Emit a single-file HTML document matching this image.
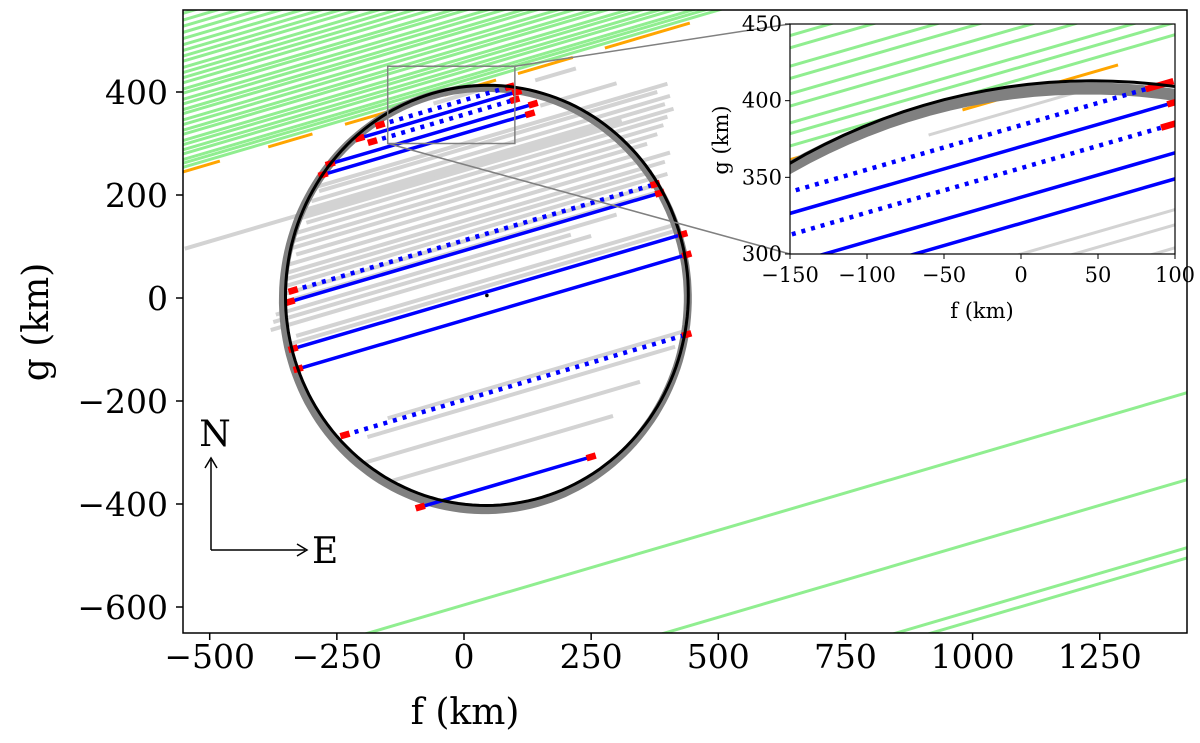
<!DOCTYPE html>
<html><head><meta charset="utf-8"><style>
html,body{margin:0;padding:0;background:#fff;overflow:hidden;width:1200px;height:743px}
svg{display:block}
text{font-family:"DejaVu Serif","Liberation Serif",serif;fill:#000}
</style></head><body>
<svg id="chart" width="1200" height="743" viewBox="0 0 1200 743" xmlns="http://www.w3.org/2000/svg">
<defs>
<clipPath id="mainClip"><rect x="183" y="10" width="1004" height="623"/></clipPath>
<clipPath id="insetClip"><rect x="790" y="24" width="385" height="230"/></clipPath>
</defs>
<g id="mainPlot" clip-path="url(#mainClip)"></g>
<rect x="183" y="10" width="1004" height="623" fill="none" stroke="#000" stroke-width="1.5"/>
<g id="mainAxes"></g>
<text x="465" y="724" font-size="36" text-anchor="middle">f (km)</text>
<text transform="translate(48,322) rotate(-90)" font-size="36" text-anchor="middle">g (km)</text>
<g>
<line x1="211" y1="550" x2="211" y2="460" stroke="#000" stroke-width="1.5"/>
<path d="M205,468 L211,458 L217,468" fill="none" stroke="#000" stroke-width="1.5"/>
<line x1="211" y1="550" x2="305" y2="550" stroke="#000" stroke-width="1.5"/>
<path d="M297,544 L307,550 L297,556" fill="none" stroke="#000" stroke-width="1.5"/>
<text x="215" y="446" font-size="36" text-anchor="middle">N</text>
<text x="312" y="563" font-size="36">E</text>
</g>
<g id="connectors"></g>
<rect x="790" y="24" width="385" height="230" fill="#fff"/>
<g id="insetPlot" clip-path="url(#insetClip)"></g>
<rect x="790" y="24" width="385" height="230" fill="none" stroke="#000" stroke-width="1.2"/>
<g id="insetAxes"></g>
<text x="982" y="318" font-size="21" text-anchor="middle">f (km)</text>
<text transform="translate(728,140) rotate(-90)" font-size="21" text-anchor="middle">g (km)</text>
</svg>
<script>
// ---- data ----
const slope = 0.29;
const greenIntercepts = [414,422,429,440,448,458,466,478,486,497,506,518,526,537,546,558,566,578,588,598,608,620,630,641,652,664,676,688,700,713,726];
const greenFarIntercepts = [-596,-765,-897,-917];
const orangeIntercept = 405;
const orangeSegStart = [-570,-385,-234,-38,106,277];
const orangeSegEnd = [-480,-298,-112,63,214,444];
const grayIntercept = [255,395,382,330,300,290,275,262,248,236,222,208,195,180,165,150,138,125,75,62,48,22,-263,-314,-190,-215,110,95,10];
const grayStart = [-549,-60,140,150,-300,-285,-300,-320,-320,-310,-335,-340,-340,-330,-350,-355,-360,-355,-370,-375,-380,-330,-204,-140,-150,-190,-350,-360,-340];
const grayEnd = [310,40,220,300,400,380,405,395,412,400,392,380,360,340,405,395,370,400,300,210,250,420,346,293,430,415,380,390,420];
const blueIntercept = [384,370,356,337,320,112,92,-1,-43,-198,-381];
const blueStart = [-165,-205,-180,-263,-277,-336,-342,-336,-326,-234,-86];
const blueEnd = [90,104,100,136,130,376,385,430,438,438,250];
const blueDotted = [1,0,1,0,0,1,0,0,0,1,0];
const ellipseCenterF = 45, ellipseCenterG = 5, ellipseA = 396, ellipseB = 408, ellipseTiltDeg = -4;
const bandCenterF = 42, bandCenterG = -2, bandA = 398, bandB = 410, bandTiltDeg = -3;
const mainXTicks = [-500,-250,0,250,500,750,1000,1250];
const mainYTicks = [-600,-400,-200,0,200,400];
const insetXTicks = [-150,-100,-50,0,50,100];
const insetYTicks = [300,350,400,450];

// ---- scales ----
const NS = "http://www.w3.org/2000/svg";
const mainScale = {X: f => 464 + 0.5086*f, Y: g => 298 - 0.515*g};
const insetScale = {X: f => 790 + (f+150)*1.54, Y: g => 254 - (g-300)*1.5333};
function el(tag, attrs, parent){
  const e = document.createElementNS(NS, tag);
  for (const k in attrs) e.setAttribute(k, attrs[k]);
  parent.appendChild(e); return e;
}
function lineAt(sc, g0, f1, f2, parent, style){
  const l = el('line', {x1: sc.X(f1), y1: sc.Y(g0+slope*f1), x2: sc.X(f2), y2: sc.Y(g0+slope*f2)}, parent);
  for (const k in style) l.setAttribute(k, style[k]);
  return l;
}
function ellipsePath(sc, cf, cg, a, b, tiltDeg){
  const t = tiltDeg*Math.PI/180; let d = '';
  for (let i=0;i<=180;i++){
    const u = i/180*2*Math.PI;
    const f = cf + a*Math.cos(t)*Math.cos(u) - b*Math.sin(t)*Math.sin(u);
    const g = cg + a*Math.sin(t)*Math.cos(u) + b*Math.cos(t)*Math.sin(u);
    d += (i?'L':'M') + sc.X(f).toFixed(1) + ',' + sc.Y(g).toFixed(1);
  }
  return d + 'Z';
}
function drawAll(sc, parent, inset){
  for (let i=0;i<greenIntercepts.length;i++){
    const l = lineAt(sc, greenIntercepts[i], -700, 1500, parent, {stroke:'#90ee90','stroke-width':inset?3:3});
    
    
  }
  for (let i=0;i<greenFarIntercepts.length;i++){
    const l = lineAt(sc, greenFarIntercepts[i], -700, 1500, parent, {stroke:'#90ee90','stroke-width':3});
    
    
  }
  for (let i=0;i<orangeSegStart.length;i++){
    const l = lineAt(sc, orangeIntercept, orangeSegStart[i], orangeSegEnd[i], parent, {stroke:'#ffa500','stroke-width':3});
    
    
  }
  for (let i=0;i<grayIntercept.length;i++){
    const l = lineAt(sc, grayIntercept[i], grayStart[i], grayEnd[i], parent, {stroke:'#d3d3d3','stroke-width':inset?3:4});
    
    
  }
  const band = el('path', {d: ellipsePath(sc, bandCenterF, bandCenterG, bandA, bandB, bandTiltDeg), fill:'none', stroke:'#808080', 'stroke-width': inset?12:8}, parent);
  
  
  for (let i=0;i<blueIntercept.length;i++){
    const st = {stroke:'#0000ff','stroke-width':3.5};
    if (blueDotted[i]) { st['stroke-dasharray'] = '4,6'; st['stroke-width'] = 4.5; }
    const l = lineAt(sc, blueIntercept[i], blueStart[i], blueEnd[i], parent, st);
    
    
    const ends = [[blueStart[i]-9, blueStart[i]+9],[blueEnd[i]-9, blueEnd[i]+9]];
    for (const e2 of ends){
      const r = lineAt(sc, blueIntercept[i], e2[0], e2[1], parent, {stroke:'#ff0000','stroke-width':6.5});
      
      
    }
  }
  const fit = el('path', {d: ellipsePath(sc, ellipseCenterF, ellipseCenterG, ellipseA, ellipseB, ellipseTiltDeg), fill:'none', stroke:'#000', 'stroke-width': 3}, parent);
  
  
}
drawAll(mainScale, document.getElementById('mainPlot'), false);
drawAll(insetScale, document.getElementById('insetPlot'), true);
const cdot = el('circle', {cx: mainScale.X(ellipseCenterF), cy: mainScale.Y(ellipseCenterG), r: 1.8, fill:'#000'}, document.getElementById('mainPlot'));


const conn = document.getElementById('connectors');
const zb = el('rect', {x: mainScale.X(-150), y: mainScale.Y(450), width: mainScale.X(100)-mainScale.X(-150), height: mainScale.Y(300)-mainScale.Y(450), fill:'none', stroke:'#808080','stroke-width':1.5}, conn);


el('line', {x1: mainScale.X(100), y1: mainScale.Y(450), x2: 790, y2: 24, stroke:'#808080','stroke-width':1.5}, conn);
el('line', {x1: mainScale.X(-150), y1: mainScale.Y(300), x2: 790, y2: 254, stroke:'#808080','stroke-width':1.5}, conn);
const ma = document.getElementById('mainAxes');
for (const t of mainXTicks){
  const x = mainScale.X(t);
  el('line', {x1:x, y1:633, x2:x, y2:640, stroke:'#000','stroke-width':1.5}, ma);
  const tx = el('text', {x:x, y:668, 'font-size':33, 'text-anchor':'middle'}, ma);
  tx.textContent = t<0 ? '\u2212'+(-t) : String(t);
  
  
}
for (const t of mainYTicks){
  const y = mainScale.Y(t);
  el('line', {x1:176, y1:y, x2:183, y2:y, stroke:'#000','stroke-width':1.5}, ma);
  const tx = el('text', {x:168, y:y+12, 'font-size':33, 'text-anchor':'end'}, ma);
  tx.textContent = t<0 ? '\u2212'+(-t) : String(t);
  
  
}
const ia = document.getElementById('insetAxes');
for (const t of insetXTicks){
  const x = insetScale.X(t);
  el('line', {x1:x, y1:254, x2:x, y2:259, stroke:'#000','stroke-width':1}, ia);
  const tx = el('text', {x:x, y:282, 'font-size':21, 'text-anchor':'middle'}, ia);
  tx.textContent = t<0 ? '\u2212'+(-t) : String(t);
  
  
}
for (const t of insetYTicks){
  const y = insetScale.Y(t);
  el('line', {x1:785, y1:y, x2:790, y2:y, stroke:'#000','stroke-width':1}, ia);
  const tx = el('text', {x:782, y:y+7, 'font-size':21, 'text-anchor':'end'}, ia);
  tx.textContent = String(t);
  
  
}
</script>
</body></html>
